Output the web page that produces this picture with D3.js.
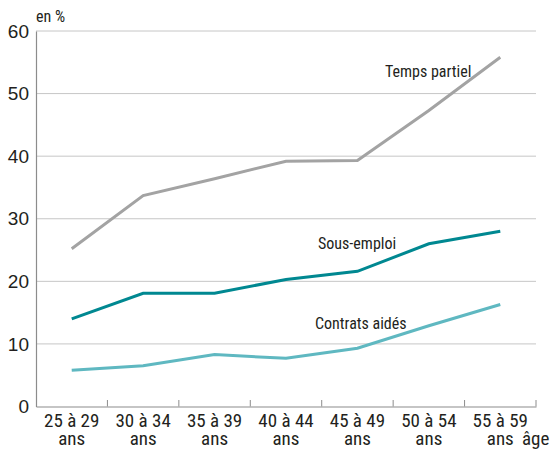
<!DOCTYPE html>
<html><head><meta charset="utf-8">
<script src="https://cdn.jsdelivr.net/npm/d3@7"></script>
<style>
body{margin:0;background:#fff;}
text{font-family:"Liberation Sans Narrow","Arial Narrow","Roboto Condensed",sans-serif;fill:#231f20;}
</style></head><body>
<svg id="c" width="557" height="449"></svg>
<script>
const categories = ["25 à 29 ans","30 à 34 ans","35 à 39 ans","40 à 44 ans","45 à 49 ans","50 à 54 ans","55 à 59 ans"];
const tempsPartiel = [25.2, 33.7, 36.4, 39.2, 39.3, 47.3, 55.8];
const sousEmploi = [14.0, 18.1, 18.1, 20.3, 21.6, 26.0, 28.0];
const contratsAides = [5.8, 6.5, 8.3, 7.7, 9.3, 12.9, 16.3];
const yTicks = [0, 10, 20, 30, 40, 50, 60];
const series = [
  {name:"Temps partiel", values:tempsPartiel, color:"#a3a3a3", lx:385, ly:77},
  {name:"Sous-emploi", values:sousEmploi, color:"#008891", lx:318, ly:249},
  {name:"Contrats aidés", values:contratsAides, color:"#5fb8c1", lx:315, ly:329}
];
const svg = d3.select("#c");
const x = d3.scaleBand().domain(categories).range([36, 536]);
const y = d3.scaleLinear().domain([0, 60]).range([406.5, 31]);

// grid
svg.append("g").selectAll("line").data(yTicks.filter(d=>d>0)).join("line")
  .attr("x1", 36).attr("x2", 536).attr("y1", d=>y(d)).attr("y2", d=>y(d))
  .attr("stroke", "#c6c6c6").attr("stroke-width", 1);

// y axis
const ya = svg.append("g").attr("transform","translate(36,0)")
  .call(d3.axisLeft(y).tickValues(yTicks).tickSize(0).tickPadding(7));
ya.select(".domain").attr("stroke","#8c8c8c").attr("stroke-width",1.2);
ya.selectAll("text").attr("font-size",19).style("font-family",'"Liberation Sans Narrow","Arial Narrow",sans-serif').attr("fill","#231f20");

// x axis
const xa = svg.append("g").attr("transform","translate(0,406.5)")
  .call(d3.axisBottom(x).tickSize(0).tickFormat(""));
xa.select(".domain").attr("stroke","#8c8c8c").attr("stroke-width",1.2);
const bounds = categories.map((c,i)=>x(c)+x.bandwidth());
svg.append("g").selectAll("line").data(bounds).join("line")
  .attr("x1",d=>d).attr("x2",d=>d).attr("y1",406.5).attr("y2",400)
  .attr("stroke","#8c8c8c").attr("stroke-width",1);
svg.append("g").selectAll("text").data(categories).join("text")
  .attr("x", d=>x(d)+x.bandwidth()/2).attr("y",427).attr("text-anchor","middle").attr("font-size",19)
  .text(d=>d.replace(/ ans$/,""));
svg.append("g").selectAll("text").data(categories).join("text")
  .attr("x", d=>x(d)+x.bandwidth()/2).attr("y",445).attr("text-anchor","middle").attr("font-size",19)
  .text("ans");

svg.append("text").attr("x",522).attr("y",445).attr("font-size",19).text("âge");
svg.append("text").attr("x",36).attr("y",22).attr("font-size",16).text("en %");

// lines
const line = d3.line().x((d,i)=>x(categories[i])+x.bandwidth()/2).y(d=>y(d));
series.forEach(s=>{
  svg.append("path").datum(s.values).attr("d",line).attr("fill","none")
    .attr("stroke",s.color).attr("stroke-width",3);
  svg.append("text").attr("x",s.lx).attr("y",s.ly).attr("font-size",16).text(s.name);
});
</script></body></html>
